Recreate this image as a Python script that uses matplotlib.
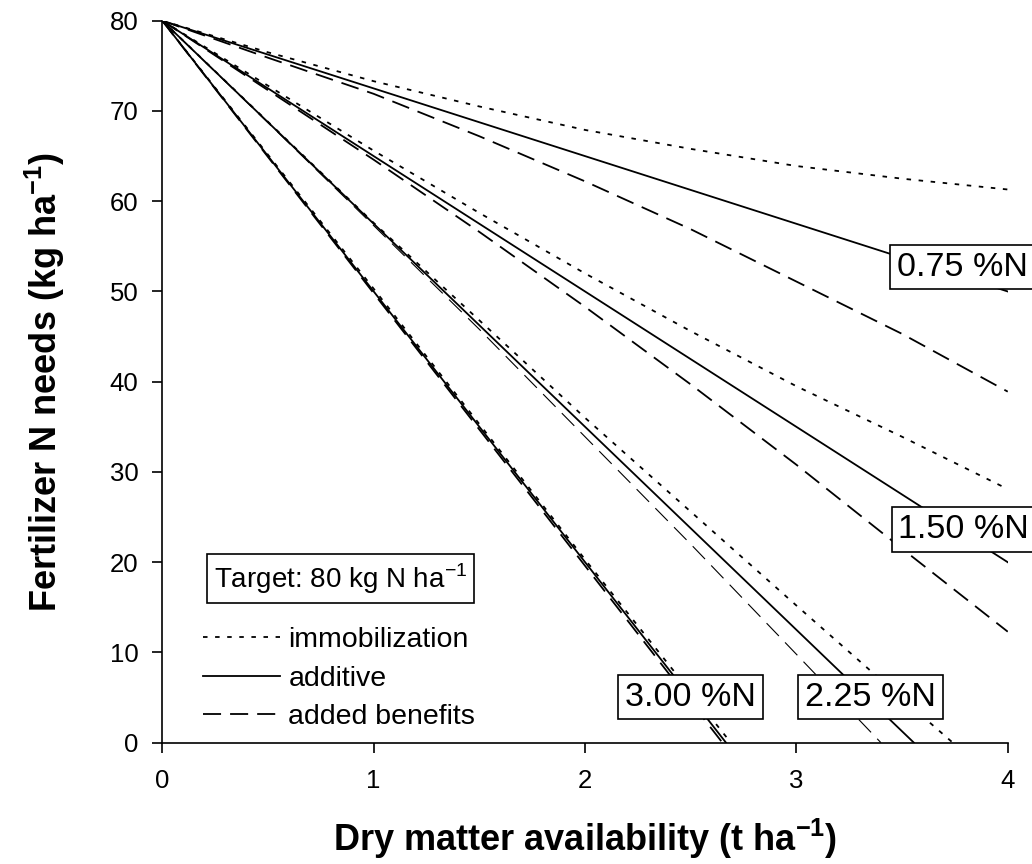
import matplotlib
matplotlib.use("Agg")
import matplotlib.pyplot as plt

plt.rcParams['font.family'] = ['Liberation Sans', 'DejaVu Sans']
plt.rcParams['mathtext.fontset'] = 'custom'
plt.rcParams['mathtext.rm'] = 'Liberation Sans'
plt.rcParams['mathtext.bf'] = 'Liberation Sans:bold'

# ---- data ----
x_full = [0, 0.5, 1, 1.5, 2, 2.5, 3, 3.5, 4]

# additive
add_075_x = [0, 4]
add_075_y = [80, 50]
add_150_x = [0, 4]
add_150_y = [80, 20]
add_225_x = [0, 3.556]
add_225_y = [80, 0]
add_300_x = [0, 2.667]
add_300_y = [80, 0]

# immobilization
imm_075_x = x_full
imm_075_y = [80, 76.5, 73.3, 70.5, 67.9, 65.8, 63.9, 62.5, 61.3]
imm_150_x = x_full
imm_150_y = [80, 72.8, 65.6, 58.7, 52.0, 45.6, 39.5, 33.9, 28.1]
imm_225_x = [0, 0.5, 1, 1.5, 2, 2.5, 3, 3.5, 3.74]
imm_225_y = [80, 68.8, 57.6, 46.8, 36.0, 25.6, 15.2, 4.9, 0]
imm_300_x = [0, 1, 2, 2.69]
imm_300_y = [80, 50.3, 20.3, 0]

# added benefits
ben_075_x = x_full
ben_075_y = [80, 75.9, 71.9, 67.2, 62.2, 56.9, 51.1, 45.3, 38.9]
ben_150_x = x_full
ben_150_y = [80, 72.3, 64.6, 56.6, 48.3, 39.7, 30.8, 21.5, 12.3]
ben_225_x = [0, 0.5, 1, 1.5, 2, 2.5, 3, 3.4]
ben_225_y = [80, 68.7, 57.3, 45.8, 33.9, 22.0, 9.8, 0]
ben_300_x = [0, 1, 2, 2.65]
ben_300_y = [80, 49.8, 19.6, 0]

pct_labels = ['0.75 %N', '1.50 %N', '2.25 %N', '3.00 %N']
pct_label_pos = [(3.476, 52.7), (3.483, 23.6), (3.351, 5.06), (2.499, 5.06)]
pct_label_ha = ['left', 'left', 'center', 'center']

legend_labels = ['immobilization', 'additive', 'added benefits']
target_text = 'Target: 80 kg N ha$^{-1}$'
xticks = [0, 1, 2, 3, 4]
yticks = [0, 10, 20, 30, 40, 50, 60, 70, 80]

# ---- figure ----
fig = plt.figure(figsize=(10.32, 8.64), dpi=100)
ax = fig.add_axes([0.1573, 0.1404, 0.8192, 0.8356])

LW = 1.3
dot = (0, (2.5, 4.2))
dash = (0, (10, 5))
thin_dash = (0, (16, 8))

h_imm = ax.plot(imm_075_x, imm_075_y, color='black', lw=LW, ls=dot)[0]
ax.plot(imm_150_x, imm_150_y, color='black', lw=LW, ls=dot)
ax.plot(imm_225_x, imm_225_y, color='black', lw=LW, ls=dot)
ax.plot(imm_300_x, imm_300_y, color='black', lw=LW, ls=dot)

h_add = ax.plot(add_075_x, add_075_y, color='black', lw=LW, ls='-')[0]
ax.plot(add_150_x, add_150_y, color='black', lw=LW, ls='-')
ax.plot(add_225_x, add_225_y, color='black', lw=LW, ls='-')
ax.plot(add_300_x, add_300_y, color='black', lw=LW, ls='-')

h_ben = ax.plot(ben_075_x, ben_075_y, color='black', lw=LW, ls=dash)[0]
ax.plot(ben_150_x, ben_150_y, color='black', lw=LW, ls=dash)
ax.plot(ben_225_x, ben_225_y, color='black', lw=0.8, ls=thin_dash)
ax.plot(ben_300_x, ben_300_y, color='black', lw=LW, ls=dash)

for lab, (px, py), ha in zip(pct_labels, pct_label_pos, pct_label_ha):
    ax.text(px, py, lab, fontsize=24.5, ha=ha, va='center', zorder=5, clip_on=False,
            bbox=dict(boxstyle='square,pad=0.2', fc='white', ec='black', lw=1.2))

ax.text(0.842, 18.2, target_text, fontsize=20, ha='center', va='center', zorder=5,
        bbox=dict(boxstyle='square,pad=0.25', fc='white', ec='black', lw=1.2))

ax.legend([h_imm, h_add, h_ben], legend_labels, loc='upper left',
          bbox_to_anchor=(0.048, 0.160), frameon=False, fontsize=20.5,
          handlelength=2.7, handletextpad=0.3, labelspacing=0.44, borderpad=0,
          borderaxespad=0)

ax.set_xlim(0, 4)
ax.set_ylim(0, 80)
ax.set_xticks(xticks)
ax.set_yticks(yticks)
ax.spines['top'].set_visible(False)
ax.spines['right'].set_visible(False)
for s in ['left', 'bottom']:
    ax.spines[s].set_linewidth(1.2)
ax.tick_params(axis='both', direction='out', length=7.2, width=1.2, labelsize=18.5)
ax.tick_params(axis='x', pad=12)
ax.tick_params(axis='y', pad=10)

ax.set_xlabel('Dry matter availability (t ha$^{\\mathbf{-1}}$)', fontsize=26,
              fontweight='bold', labelpad=17)
ax.set_ylabel('Fertilizer N needs (kg ha$^{\\mathbf{-1}}$)', fontsize=26,
              fontweight='bold', labelpad=31)

fig.savefig('out.png', dpi=100)
